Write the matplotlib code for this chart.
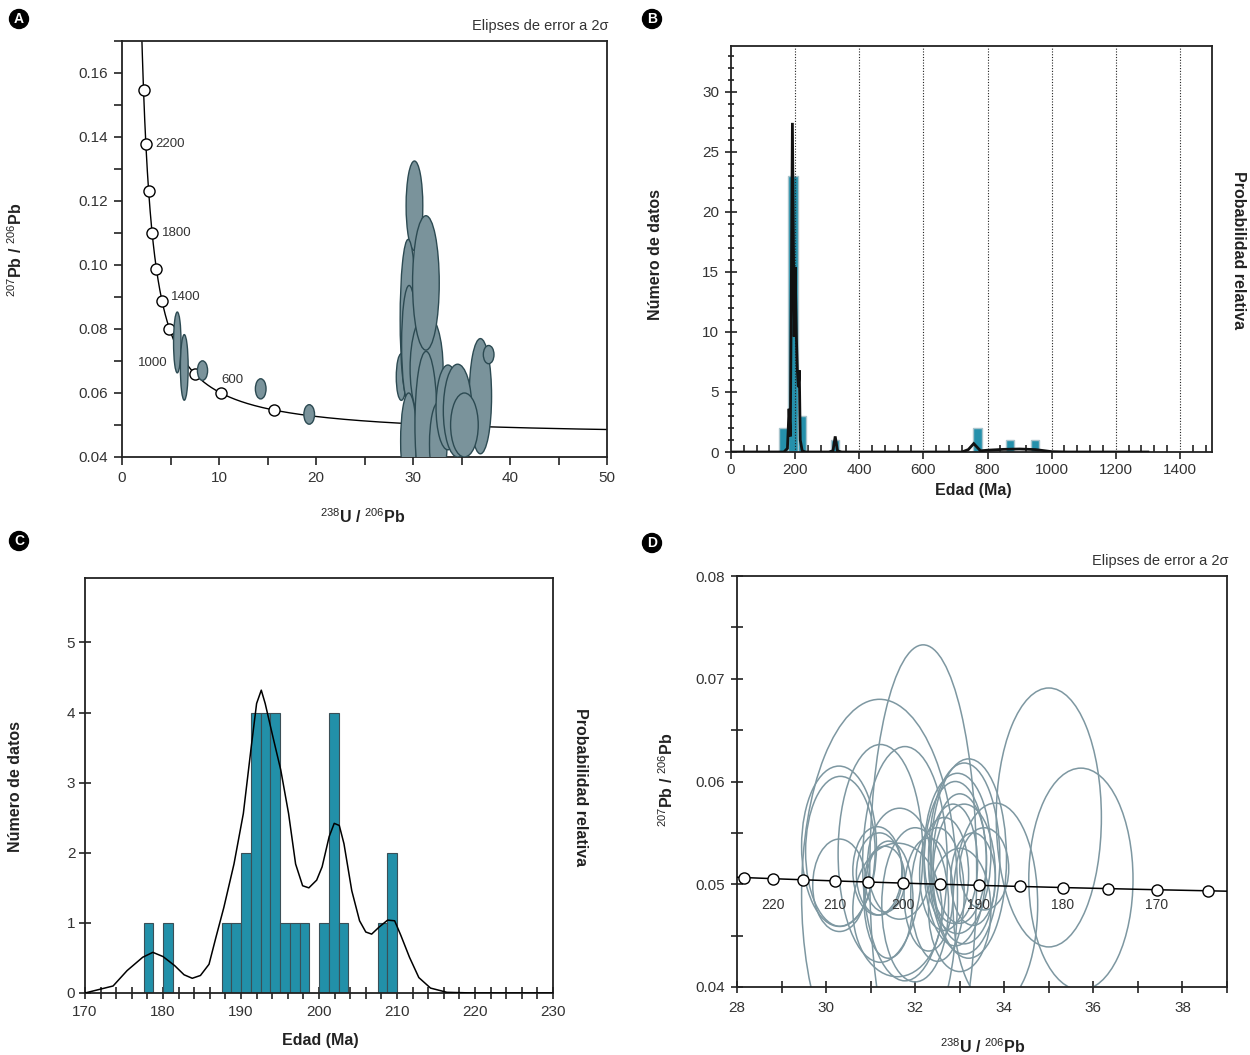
import numpy as np
import matplotlib
matplotlib.use('Agg')
import matplotlib.pyplot as plt
from matplotlib.patches import Ellipse
from matplotlib.ticker import MultipleLocator, FormatStrFormatter

plt.rcParams['font.family'] = ['Liberation Sans', 'DejaVu Sans']
plt.rcParams['mathtext.fontset'] = 'custom'
plt.rcParams['mathtext.rm'] = 'Liberation Sans'
plt.rcParams['mathtext.bf'] = 'Liberation Sans:bold'
plt.rcParams['axes.linewidth'] = 1.3
plt.rcParams['axes.edgecolor'] = '#222222'
plt.rcParams['xtick.color'] = '#222222'
plt.rcParams['ytick.color'] = '#222222'
plt.rcParams['xtick.labelcolor'] = '#333333'
plt.rcParams['ytick.labelcolor'] = '#333333'
plt.rcParams['xtick.labelsize'] = 11
plt.rcParams['ytick.labelsize'] = 11

W, H = 1250, 1055

#### DATOS ####
# constantes de decaimiento (Tera-Wasserburg)
L238 = 1.55125e-10
L235 = 9.8485e-10
U_RATIO = 137.88

# A: marcas de edad en la concordia y elipses (cx, cy, ancho, alto)
edades_A = [200, 400, 600, 800, 1000, 1200, 1400, 1600, 1800, 2000, 2200, 2400]
etiquetas_A = [2200, 1800, 1400, 1000, 600]
elip_A_x = [28.8, 30.15, 29.5, 29.6, 31.4, 31.33, 29.55, 31.35, 32.6, 36.95,
            33.6, 34.6, 35.3, 37.8, 5.7, 6.42, 8.3, 14.3, 19.3]
elip_A_y = [0.065, 0.1185, 0.083, 0.0752, 0.0677, 0.0944, 0.045, 0.050, 0.044, 0.059,
            0.0555, 0.0545, 0.050, 0.072, 0.0758, 0.068, 0.067, 0.0613, 0.0533]
elip_A_w = [1.05, 1.72, 1.65, 1.55, 3.4, 2.75, 1.65, 2.3, 1.8, 2.3,
            2.45, 2.95, 2.85, 1.1, 0.77, 0.80, 1.05, 1.1, 1.1]
elip_A_h = [0.0146, 0.028, 0.050, 0.0368, 0.034, 0.042, 0.030, 0.046, 0.026, 0.036,
            0.0265, 0.029, 0.020, 0.0057, 0.019, 0.0205, 0.0061, 0.0063, 0.0061]

# B: histograma de edades
hist_B_izq = [150, 177, 208, 311, 756, 858, 936]
hist_B_ancho = [27, 31, 27, 26, 26, 26, 25]
hist_B_n = [2, 23, 3, 1, 2, 1, 1]
curva_B_x = [0, 165, 176, 181, 185, 191.5, 197, 200, 204, 207, 210, 213, 216, 222, 232,
             305, 318, 325, 332, 345, 720, 740, 757, 778, 800, 850, 900, 950, 1000, 1050, 1300]
curva_B_y = [0, 0, 0.3, 3.6, 1.3, 27.4, 9.6, 15.4, 9.5, 6.8, 5.4, 6.8, 1.0, 0.1, 0,
             0, 0.1, 1.3, 0.1, 0, 0, 0.2, 0.7, 0.1, 0.15, 0.22, 0.25, 0.2, 0.03, 0, 0]

# C: histograma detallado (bins de 1.25 Ma)
hist_C_izq = [177.5, 180.0, 187.5, 188.75, 190.0, 191.25, 192.5, 193.75, 195.0,
              196.25, 197.5, 200.0, 201.25, 202.5, 207.5, 208.75]
hist_C_n = [1, 1, 1, 1, 2, 4, 4, 4, 1, 1, 1, 1, 4, 1, 1, 2]
curva_C_x = [170, 173.6, 175.4, 177.4, 178.7, 180.0, 181.5, 182.7, 183.75, 184.8, 185.9,
             186.8, 187.8, 189.1, 190.3, 191.3, 192.0, 192.6, 193.1, 194.1, 195.1, 196.1,
             197.0, 197.9, 198.7, 199.7, 200.4, 201.3, 201.95, 202.6, 203.2, 204.2, 205.2,
             206.0, 206.75, 207.7, 208.8, 209.7, 210.5, 211.6, 212.8, 214.3, 216.4, 219.9, 230]
curva_C_y = [0, 0.1, 0.32, 0.51, 0.58, 0.52, 0.39, 0.26, 0.21, 0.25, 0.41,
             0.8, 1.22, 1.84, 2.56, 3.5, 4.13, 4.32, 4.13, 3.65, 3.18, 2.56,
             1.84, 1.53, 1.5, 1.61, 1.8, 2.23, 2.42, 2.39, 2.13, 1.46, 1.03,
             0.87, 0.84, 0.94, 1.04, 1.03, 0.82, 0.51, 0.22, 0.07, 0.01, 0, 0]

# D: concordia ampliada y elipses (cx, cy, semi-ancho, semi-alto)
edades_D = [165, 170, 175, 180, 185, 190, 195, 200, 205, 210, 215, 220, 225]
etiquetas_D = [220, 210, 200, 190, 180, 170]
elip_D_x = [30.29, 30.32, 30.30, 32.18, 31.2, 31.22, 31.77, 31.15, 31.20, 31.32, 31.4,
            31.65, 31.6, 32.3, 32.0, 33.2, 33.1, 32.95, 32.9, 33.0, 32.85, 33.1, 32.65,
            33.3, 33.55, 32.5, 33.0, 33.8, 35.0, 35.72]
elip_D_y = [0.0537, 0.0532, 0.0499, 0.0510, 0.049, 0.0530, 0.0520, 0.0513, 0.0510, 0.0505,
            0.0485, 0.0520, 0.0475, 0.049, 0.048, 0.0525, 0.0525, 0.0530, 0.0520, 0.0525,
            0.0520, 0.0510, 0.0510, 0.0505, 0.0515, 0.0490, 0.0475, 0.0480, 0.0565, 0.0505]
elip_D_a = [0.84, 0.78, 0.60, 1.20, 1.75, 0.95, 0.95, 0.55, 0.52, 0.45, 0.55,
            0.72, 1.0, 0.55, 0.75, 0.85, 0.80, 0.75, 0.70, 0.60, 0.55, 0.70, 0.55,
            0.50, 0.55, 0.60, 0.70, 0.95, 1.18, 1.17]
elip_D_b = [0.0078, 0.0073, 0.0045, 0.0223, 0.019, 0.0106, 0.0114, 0.0043, 0.0040, 0.0032,
            0.0057, 0.0054, 0.0065, 0.0055, 0.0075, 0.0097, 0.0093, 0.0078, 0.0080, 0.0063,
            0.0058, 0.0068, 0.0055, 0.0045, 0.0040, 0.0065, 0.0060, 0.0099, 0.0126, 0.0108]


def concordia(t_ma):
    t = np.asarray(t_ma, dtype=float) * 1e6
    e8 = np.exp(L238 * t) - 1
    e5 = np.exp(L235 * t) - 1
    return 1 / e8, e5 / e8 / U_RATIO


def rect(l, t, r, b):
    return [l / W, 1 - b / H, (r - l) / W, (b - t) / H]


def ftext(x, y, s, **kw):
    fig.text(x / W, 1 - y / H, s, **kw)


fig = plt.figure(figsize=(12.5, 10.55), dpi=100)

lbl = dict(fontsize=11.5, fontweight='bold', color='#222222', ha='center', va='center')
iso_y = r'$^{207}$Pb / $^{206}$Pb'
iso_x = r'$^{238}$U / $^{206}$Pb'

#### PANEL A ####
axA = fig.add_axes(rect(122, 41, 607, 457))
tc = np.linspace(120, 2600, 800)
xc, yc = concordia(tc)
axA.plot(xc, yc, color='black', lw=1, zorder=2)
mx, my = concordia(edades_A)
axA.plot(mx, my, 'o', ms=8, mfc='white', mec='black', mew=1, zorder=3)
for cx, cy, w, h in zip(elip_A_x, elip_A_y, elip_A_w, elip_A_h):
    axA.add_patch(Ellipse((cx, cy), w, h, fc='#7a939b', ec='#2c4a52', lw=1, zorder=4))
offs = {2200: (7, 0, 'left'), 1800: (7, 0, 'left'), 1400: (6.5, 3, 'left'),
        1000: (-9, -7, 'right'), 600: (0, 9.5, 'left')}
for e in etiquetas_A:
    ex, ey = concordia(e)
    dx, dy, ha = offs[e]
    axA.annotate(str(e), (ex, ey), xytext=(dx, dy), textcoords='offset points',
                 ha=ha, va='center', fontsize=9.5, color='#333333', zorder=5)
axA.set_xlim(0, 50)
axA.set_ylim(0.04, 0.17)
axA.xaxis.set_major_locator(MultipleLocator(10))
axA.xaxis.set_minor_locator(MultipleLocator(5))
axA.yaxis.set_major_locator(MultipleLocator(0.02))
axA.yaxis.set_minor_locator(MultipleLocator(0.01))
axA.yaxis.set_major_formatter(FormatStrFormatter('%.2f'))
axA.tick_params(which='both', direction='out', length=6, width=1.2, pad=4)
ftext(608, 26, 'Elipses de error a 2σ', fontsize=10.5, color='#333333', ha='right', va='center')
ftext(363, 517, iso_x, **lbl)
ftext(16, 250, iso_y, rotation=90, **lbl)

#### PANEL B ####
axB = fig.add_axes(rect(731, 46, 1212, 452))
axB.bar(hist_B_izq, hist_B_n, width=hist_B_ancho, align='edge', color='#2590ab',
        edgecolor='#a9c4cc', lw=1, zorder=2)
for xv in range(200, 1401, 200):
    axB.axvline(xv, color='#222222', ls=(0, (1, 1.5)), lw=0.8, zorder=3)
axB.plot(curva_B_x, curva_B_y, color='#111111', lw=2, zorder=4, solid_joinstyle='miter')
axB.set_xlim(0, 1500)
axB.set_ylim(0, 33.8)
axB.xaxis.set_major_locator(MultipleLocator(200))
axB.xaxis.set_minor_locator(MultipleLocator(40))
axB.yaxis.set_major_locator(MultipleLocator(5))
axB.yaxis.set_minor_locator(MultipleLocator(1))
axB.tick_params(axis='x', which='major', direction='out', length=5, width=1.2, pad=3)
axB.tick_params(axis='x', which='minor', direction='in', length=5, width=1.2)
axB.tick_params(axis='y', which='major', direction='inout', length=9, width=1.2, pad=4)
axB.tick_params(axis='y', which='minor', direction='inout', length=5, width=1.2)
ftext(973, 490, 'Edad (Ma)', **lbl)
ftext(656, 255, 'Número de datos', rotation=90, **lbl)
ftext(1238, 250, 'Probabilidad relativa', rotation=-90, **lbl)

#### PANEL C ####
axC = fig.add_axes(rect(85, 578, 553, 993))
axC.bar(hist_C_izq, hist_C_n, width=1.25, align='edge', color='#2290a9',
        edgecolor='#3a4f57', lw=0.8, zorder=2)
axC.plot(curva_C_x, curva_C_y, color='black', lw=1.1, zorder=3)
axC.set_xlim(170, 230)
axC.set_ylim(0, 5.92)
axC.xaxis.set_major_locator(MultipleLocator(10))
axC.xaxis.set_minor_locator(MultipleLocator(2))
axC.yaxis.set_major_locator(MultipleLocator(1))
axC.tick_params(which='both', direction='inout', length=8, width=1.2)
axC.tick_params(axis='x', which='major', pad=5)
axC.tick_params(axis='y', which='major', pad=3)
ftext(320, 1040, 'Edad (Ma)', **lbl)
ftext(16, 787, 'Número de datos', rotation=90, **lbl)
ftext(580, 787, 'Probabilidad relativa', rotation=-90, **lbl)

#### PANEL D ####
axD = fig.add_axes(rect(737, 576, 1227, 987))
for cx, cy, a, b in zip(elip_D_x, elip_D_y, elip_D_a, elip_D_b):
    axD.add_patch(Ellipse((cx, cy), 2 * a, 2 * b, fill=False, ec='#7d97a1', lw=1.1, zorder=2))
tcd = np.linspace(160, 232, 200)
xd, yd = concordia(tcd)
axD.plot(xd, yd, color='black', lw=1.1, zorder=3)
mdx, mdy = concordia(edades_D)
axD.plot(mdx, mdy, 'o', ms=8, mfc='white', mec='black', mew=1, zorder=4)
for e in etiquetas_D:
    ex, ey = concordia(e)
    axD.text(ex, 0.048, str(e), ha='center', va='center', fontsize=10,
             color='#333333', zorder=5)
axD.set_xlim(28, 39)
axD.set_ylim(0.04, 0.08)
axD.xaxis.set_major_locator(MultipleLocator(2))
axD.xaxis.set_minor_locator(MultipleLocator(1))
axD.yaxis.set_major_locator(MultipleLocator(0.01))
axD.yaxis.set_minor_locator(MultipleLocator(0.005))
axD.yaxis.set_major_formatter(FormatStrFormatter('%.2f'))
axD.tick_params(which='both', direction='inout', length=8, width=1.2)
axD.tick_params(axis='x', which='major', pad=6)
axD.tick_params(axis='y', which='major', pad=5)
ftext(1228, 561, 'Elipses de error a 2σ', fontsize=10.5, color='#333333', ha='right', va='center')
ftext(983, 1047, iso_x, **lbl)
ftext(667, 780, iso_y, rotation=90, **lbl)

#### LETRAS DE PANEL ####
for letra, (bx, by) in zip('ABCD', [(19, 19), (652, 19), (19, 541), (652, 543)]):
    ftext(bx, by, letra, color='white', fontsize=10, fontweight='bold', ha='center', va='center',
          bbox=dict(boxstyle='circle,pad=0.18', fc='black', ec='black'))

fig.savefig('out.png', dpi=100)
